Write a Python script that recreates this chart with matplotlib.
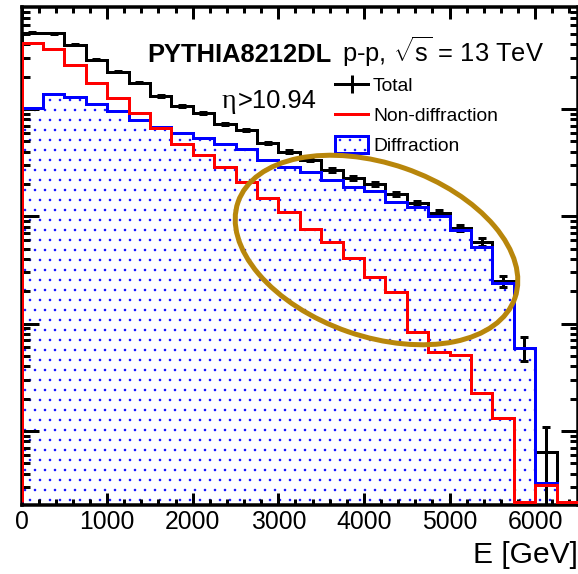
import numpy as np
import matplotlib
matplotlib.use("Agg")
import matplotlib.pyplot as plt
import matplotlib.ticker as ticker
from matplotlib.lines import Line2D
from matplotlib.patches import Patch, Ellipse

# energy bins, 250 GeV wide
bin_edges = np.arange(0, 6750, 250)

# histogram contents (arbitrary units, log scale)
total = [51200, 50500, 39500, 28700, 22200, 17500, 13200, 10700, 9200, 7260,
         6380, 4830, 3980, 3350, 2700, 2280, 2000, 1620, 1330, 1080,
         780, 577, 250, 59.4, 6.4, 0]
total_err = [423, 420, 372, 317, 279, 247, 215, 193, 179, 159,
             149, 130, 118, 108, 97, 89, 84, 75, 68, 61,
             52, 45, 30, 15, 4.5, 0]
non_diffraction = [41300, 36300, 25800, 17500, 12700, 9200, 6670, 4730, 3740, 2890,
                   2090, 1480, 1100, 763, 577, 410, 272, 197, 84, 54.5,
                   51, 22.6, 13.2, 0, 3.1, 0]
diffraction = [10200, 13800, 13000, 11200, 9600, 7900, 6800, 6000, 5400, 4700,
               4250, 3350, 2890, 2590, 2180, 1880, 1720, 1360, 1220, 1010,
               747, 519, 239, 59.4, 3.3, 0]

DPI = 120
W, H = 578, 574
PT = 72 / DPI  # points per pixel

plt.rcParams["font.family"] = ["Liberation Sans", "DejaVu Sans"]
plt.rcParams["mathtext.fontset"] = "custom"
plt.rcParams["mathtext.rm"] = "Liberation Sans"
plt.rcParams["mathtext.it"] = "Liberation Sans:italic"
plt.rcParams["hatch.linewidth"] = 0.3

Y_MIN, Y_MAX = 2.04, 8.9e4
floor = Y_MIN * 1.07   # empty bins drawn on the frame bottom, like ROOT


def disp(v):
    v = np.asarray(v, dtype=float)
    return np.where(v > 0, v, floor)


fig = plt.figure(figsize=(W / DPI, H / DPI), dpi=DPI)
ax = fig.add_axes([21.5 / W, (H - 505) / H, (W - 21.5) / W, (505 - 7) / H])
ax.set_yscale("log")

lw = 3 * PT
centers = 0.5 * (bin_edges[:-1] + bin_edges[1:])

# total: step + error bars
ax.stairs(disp(total), bin_edges, baseline=floor, color="black", linewidth=lw, zorder=2)
has = np.asarray(total) > 0
ax.errorbar(centers[has], np.asarray(total)[has], yerr=np.asarray(total_err)[has],
            fmt="none", ecolor="black", elinewidth=lw, capsize=4 * PT, capthick=lw, zorder=2)

# diffraction: dotted fill + outline
ax.stairs(disp(diffraction), bin_edges, baseline=Y_MIN * 0.5, fill=True,
          facecolor="none", edgecolor="blue", hatch="..", linewidth=0, zorder=1)
ax.stairs(disp(diffraction), bin_edges, baseline=floor, color="blue", linewidth=lw, zorder=3)

# non-diffraction
ax.stairs(disp(non_diffraction), bin_edges, baseline=floor, color="red", linewidth=lw, zorder=4)

ax.set_xlim(0, 6500)
ax.set_ylim(Y_MIN, Y_MAX)

ax.xaxis.set_major_locator(ticker.MultipleLocator(1000))
ax.xaxis.set_minor_locator(ticker.MultipleLocator(200))
ax.yaxis.set_major_locator(ticker.LogLocator(base=10))
ax.yaxis.set_minor_locator(ticker.LogLocator(base=10, subs=np.arange(2, 10)))
ax.yaxis.set_minor_formatter(ticker.NullFormatter())

ax.tick_params(axis="both", which="both", direction="in", top=True, right=True,
               width=3 * PT, labelleft=False)
ax.tick_params(axis="x", which="major", length=12 * PT, labelsize=24.8 * PT, pad=3)
ax.tick_params(axis="x", which="minor", length=6 * PT)
ax.tick_params(axis="y", which="major", length=17 * PT)
ax.tick_params(axis="y", which="minor", length=8 * PT)
for s in ax.spines.values():
    s.set_linewidth(3.5 * PT)

ax.set_xlabel("E [GeV]", loc="right", fontsize=30 * PT, labelpad=4)


def px(x, y):
    return x / W, 1 - y / H


big = 25.5 * PT
fig.text(*px(147, 62), "PYTHIA8212DL", fontsize=big, fontweight="bold", va="baseline")
fig.text(*px(342, 62), r"p-p, $\sqrt{\mathrm{s}}$ = 13 TeV", fontsize=big, va="baseline")
fig.text(*px(222, 108), "η", fontsize=28 * PT, family="Liberation Serif", va="baseline")
fig.text(*px(238, 108), ">10.94", fontsize=big, va="baseline")

leg_px = 19.2
handles = [
    Line2D([0], [0], color="black", lw=lw, marker="|", markersize=18 * PT, markeredgewidth=lw),
    Line2D([0], [0], color="red", lw=lw),
    Patch(facecolor="white", edgecolor="blue", hatch="..", linewidth=lw),
]
ax.legend(handles, ["Total", "Non-diffraction", "Diffraction"],
          loc="upper left", bbox_to_anchor=px(335, 76), bbox_transform=fig.transFigure,
          frameon=False, fontsize=leg_px * PT, borderpad=0, borderaxespad=0,
          handlelength=33 / leg_px, handleheight=1.0,
          handletextpad=5 / leg_px, labelspacing=0.56)

# highlight ellipse
ell = Ellipse((376.5 / DPI, (H - 250) / DPI), 293 / DPI, 173 / DPI, angle=-19.1,
              transform=fig.dpi_scale_trans, fill=False, edgecolor="#B8860B",
              linewidth=5 * PT, zorder=10)
fig.add_artist(ell)

fig.savefig("out.png", dpi=DPI)
